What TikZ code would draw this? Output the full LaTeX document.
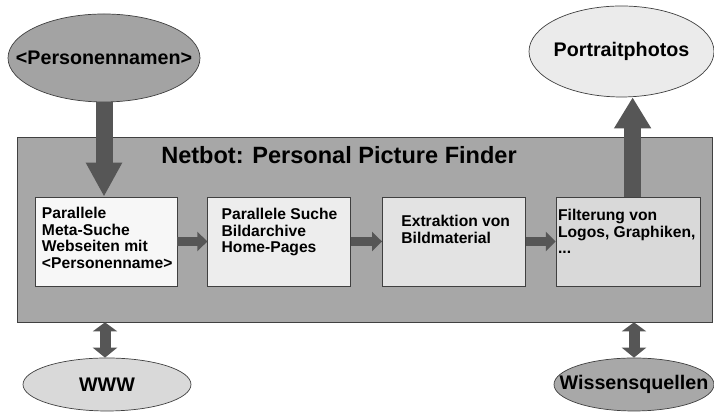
\documentclass[tikz,border=0pt]{standalone}
\usepackage{fontspec}
\setmainfont{Liberation Sans}
\usetikzlibrary{positioning,shapes.geometric,arrows.meta}

\definecolor{rahmengrau}{HTML}{A7A7A7}
\definecolor{pfeilgrau}{HTML}{565656}
\definecolor{namengrau}{HTML}{A3A3A3}
\definecolor{fotograu}{HTML}{EBEBEB}
\definecolor{wwwgrau}{HTML}{D9D9D9}
\definecolor{wissengrau}{HTML}{A8A8A8}

\tikzset{
  wolke/.style={ellipse, draw=black!75, thin, inner sep=0pt,
    label={[inner sep=0pt, font=\fontsize{11.2}{13}\selectfont\bfseries]center:#1}},
  schritt/.style={draw=black!75, thin, inner sep=0pt,
    minimum width=2.86cm, minimum height=1.78cm},
  schritttext/.style={align=left, inner sep=0pt,
    font=\fontsize{8.9}{9.5}\selectfont\bfseries},
  dickpfeil/.style={draw=pfeilgrau, line width=#1},
  kleinpfeil/.style={draw=pfeilgrau, line width=0.18cm,
    -{Triangle[width=0.38cm,length=0.2cm]}},
  doppelpfeil/.style={draw=pfeilgrau, line width=0.22cm,
    {Triangle[width=0.48cm,length=0.18cm]}-{Triangle[width=0.48cm,length=0.2cm]}}
}

\begin{document}
\begin{tikzpicture}
  \useasboundingbox (0,0) rectangle (14.28,8.24);

  % -- Rahmen Netbot
  \node [draw=black!75, thin, fill=rahmengrau, minimum width=13.9cm,
         minimum height=3.7cm, inner sep=0pt] (netbot) at (7.29,3.65) {};
  \node [font=\fontsize{13.4}{15}\selectfont\bfseries, inner sep=0pt]
        (titel) at (6.78,5.14) {Netbot: Personal Picture Finder};

  % -- Verarbeitungsschritte
  \node [schritt, fill=black!3, minimum width=2.84cm] (meta) at (2.12,3.41) {};
  \node [schritt, fill=black!7, right=0.6cm of meta] (suche) {};
  \node [schritt, fill=black!11, right=0.62cm of suche] (extr) {};
  \node [schritt, fill=black!15, minimum width=2.88cm, right=0.6cm of extr] (filter) {};

  \node [schritttext, below right=0.2cm and 0.14cm of meta.north west] (meta-txt)
        {Parallele\\Meta-Suche\\Webseiten mit\\<Personenname>};
  \node [schritttext, below right=0.22cm and 0.28cm of suche.north west] (suche-txt)
        {Parallele Suche\\Bildarchive\\Home-Pages};
  \node [schritttext, below right=0.36cm and 0.38cm of extr.north west] (extr-txt)
        {Extraktion von\\Bildmaterial};
  \node [schritttext, below right=0.24cm and 0.04cm of filter.north west] (filter-txt)
        {Filterung von\\Logos, Graphiken,\\...};

  % -- Ein- und Ausgabe
  \node [wolke={<Personennamen>}, fill=namengrau,
         minimum width=3.84cm, minimum height=1.76cm] (namen) at (2.08,7.08) {};
  \node [wolke={Portraitphotos}, fill=fotograu,
         minimum width=3.7cm, minimum height=1.82cm] (fotos) at (12.43,7.21) {};
  \node [wolke={WWW}, fill=wwwgrau,
         minimum width=3.36cm, minimum height=1.06cm] (www) at (2.14,0.55) {};
  \node [wolke={Wissensquellen}, fill=wissengrau,
         minimum width=3.2cm, minimum height=1.06cm] (wissen) at (12.68,0.55) {};

  % -- Pfeile
  \draw [dickpfeil=0.34cm, -{Triangle[width=0.68cm,length=0.68cm]}]
        (namen.south) -- (namen.south |- meta.north);
  \draw [dickpfeil=0.34cm, -{Triangle[width=0.7cm,length=0.62cm]}]
        ([xshift=0.09cm]filter.north) -- ([xshift=0.09cm]filter.north |- fotos.south);
  \draw [kleinpfeil] (meta) -- (suche);
  \draw [kleinpfeil] (suche) -- (extr);
  \draw [kleinpfeil] (extr) -- (filter);
  \draw [doppelpfeil] ([xshift=-0.04cm]netbot.south -| www.north)
        -- ([xshift=-0.04cm]www.north);
  \draw [doppelpfeil] (netbot.south -| wissen.north) -- (wissen.north);
\end{tikzpicture}
\end{document}
